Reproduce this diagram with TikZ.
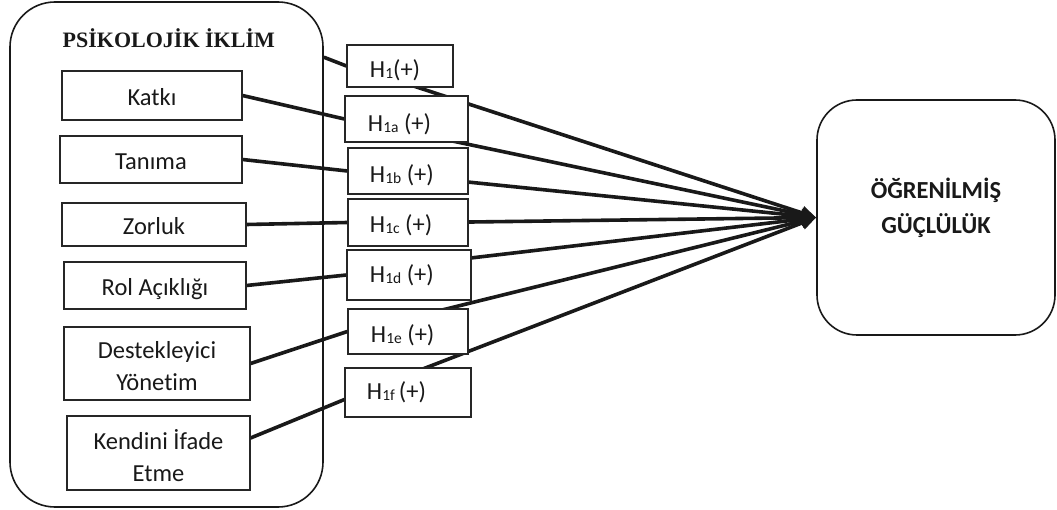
\documentclass[tikz,border=0pt]{standalone}
\usepackage{fontspec}
\setmainfont{Carlito}[Ligatures=NoCommon]
\newfontfamily\serifb{Liberation Serif}
\usetikzlibrary{arrows.meta,backgrounds,calc}
\newcommand\labfont{\fontsize{24.5}{32}\selectfont}
\newcommand\rtitfont{\fontsize{24.5}{35}\selectfont\bfseries}
\newcommand\ttlfont{\serifb\bfseries\fontsize{22}{26}\selectfont}
\newcommand\hsb[1]{\raisebox{-1.5pt}{\fontsize{15.5}{15.5}\selectfont #1}}
\tikzset{
  box/.style={draw=black!85, line width=1.1pt, fill=white, inner sep=0pt},
  one/.style={box, font=\labfont, text height=20pt, text depth=0pt},
  hbox/.style={box},
  conn/.style={line width=3.6pt, draw=black!90},
  arr/.style={conn, -{Triangle[length=15pt,width=13pt]}},
}
\begin{document}
\begin{tikzpicture}[x=1pt,y=-1pt, text=black!90]
\useasboundingbox (0,0) rectangle (1057,510);
% big container
\node[draw=black!90, line width=1.6pt, rounded corners=45pt, minimum width=313pt, minimum height=505pt, inner sep=0pt,
  label={[anchor=base west, shift={(50,46)}, font=\ttlfont]north west:PSİKOLOJİK İKLİM}] (big) at (166.5,254.5) {};
% left boxes
\node[one, minimum width=180pt, minimum height=49pt] (katki) at (152,95.5) {Katkı};
\node[one, minimum width=182pt, minimum height=47pt] (tanima) at (151,159.5) {Tanıma};
\node[one, minimum width=184pt, minimum height=43pt] (zorluk) at (154,224.5) {Zorluk};
\node[one, minimum width=182pt, minimum height=47pt] (rol) at (155,285.5) {Rol Açıklığı};
\node[box, minimum width=186pt, minimum height=73pt,
  label={[anchor=center, shift={(0,3)}, font=\labfont, align=center]center:Destekleyici\\Yönetim}] (destek) at (157,363.5) {};
\node[box, minimum width=183pt, minimum height=74pt,
  label={[anchor=center, shift={(0,3)}, font=\labfont, align=center]center:Kendini İfade\\Etme}] (kendini) at (158.5,453) {};
% hypothesis boxes
\node[hbox, minimum width=106pt, minimum height=42pt,
  label={[anchor=base west, shift={(20,33)}, font=\labfont]north west:H\hsb{1}(+)}] (h1) at (400,66) {};
\node[hbox, minimum width=123pt, minimum height=46pt,
  label={[anchor=base west, shift={(20,36)}, font=\labfont]north west:H\hsb{1a} (+)}] (h1a) at (406.5,119) {};
\node[hbox, minimum width=120pt, minimum height=46pt,
  label={[anchor=base west, shift={(19,35)}, font=\labfont]north west:H\hsb{1b} (+)}] (h1b) at (408,171) {};
\node[hbox, minimum width=120pt, minimum height=47pt,
  label={[anchor=base west, shift={(19,34)}, font=\labfont]north west:H\hsb{1c} (+)}] (h1c) at (408,222.5) {};
\node[hbox, minimum width=124pt, minimum height=50pt,
  label={[anchor=base west, shift={(20,33)}, font=\labfont]north west:H\hsb{1d} (+)}] (h1d) at (409,275) {};
\node[hbox, minimum width=120pt, minimum height=45pt,
  label={[anchor=base west, shift={(20,34)}, font=\labfont]north west:H\hsb{1e} (+)}] (h1e) at (408,331.5) {};
\node[hbox, minimum width=126pt, minimum height=49pt,
  label={[anchor=base west, shift={(19,32)}, font=\labfont]north west:H\hsb{1f}\,(+)}] (h1f) at (408,392.5) {};
% outcome box
\node[draw=black!90, line width=1.6pt, rounded corners=40pt, minimum width=238pt, minimum height=235pt, inner sep=0pt,
  label={[anchor=center, shift={(0,-10)}, font=\rtitfont, align=center]center:ÖĞRENİLMİŞ\\GÜÇLÜLÜK}] (rb) at (936,217.5) {};
% start points of the arrows (inside the hypothesis boxes)
\coordinate (s1) at (400,81.6);
\coordinate (s2) at (440,138.4);
\coordinate (s3) at (440,179.2);
\coordinate (s4) at (440,222.4);
\coordinate (s5) at (440,261.6);
\coordinate (s6) at (430,313);
\coordinate (s7) at (410,373.9);
\begin{pgfonlayer}{background}
  \draw[conn] ($(big.north east)+(0,56)$) -- (h1.west);
  \draw[conn] (katki.east) -- (h1a.west);
  \draw[conn] (tanima.east) -- (h1b.west);
  \draw[conn] (zorluk.east) -- (h1c.west);
  \draw[conn] (rol.east) -- (h1d.west);
  \draw[conn] (destek.east) -- (h1e.west);
  \draw[conn] ($(kendini.east)+(0,-15)$) -- ($(h1f.west)+(0,7)$);
  \draw[arr] (s1) -- (rb.west);
  \draw[arr] (s2) -- (rb.west);
  \draw[arr] (s3) -- (rb.west);
  \draw[arr] (s4) -- (rb.west);
  \draw[arr] (s5) -- (rb.west);
  \draw[arr] (s6) -- (rb.west);
  \draw[arr] (s7) -- (rb.west);
\end{pgfonlayer}
\end{tikzpicture}
\end{document}
